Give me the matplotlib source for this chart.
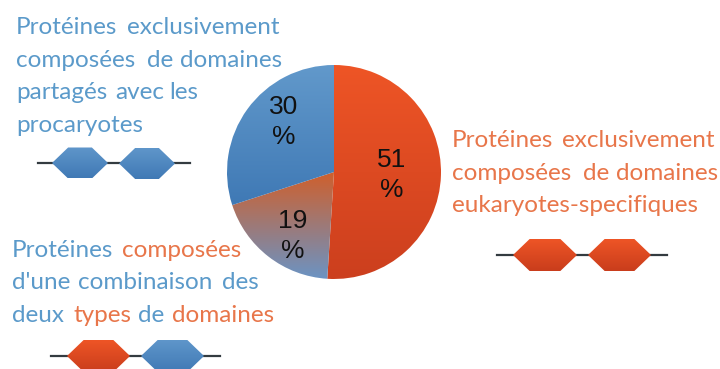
import numpy as np
import matplotlib
matplotlib.use("Agg")
import matplotlib.pyplot as plt
from matplotlib.colors import LinearSegmentedColormap
from matplotlib.patches import Polygon

categories = ["eukaryotes", "combinaison", "procaryotes"]
values = [51, 19, 30]
label_pos = [(392, 175), (293, 236), (284, 122)]

BLUE = "#5b9aca"
ORANGE = "#e8764a"

# baseline y, then (word, x) or (word, x, colour)
left_top = [
    (34, [("Protéines", 16), ("exclusivement", 127)]),
    (67, [("composées", 16), ("de", 147), ("domaines", 180)]),
    (99, [("partagés", 16), ("avec", 115), ("les", 169)]),
    (132, [("procaryotes", 16)]),
]
right_text = [
    (147, [("Protéines", 452), ("exclusivement", 562)]),
    (180, [("composées", 452), ("de", 583), ("domaines", 616)]),
    (212, [("eukaryotes-specifiques", 452)]),
]
bottom_text = [
    (257, [("Protéines", 12, BLUE), ("composées", 122, ORANGE)]),
    (289, [("d'une", 12, BLUE), ("combinaison", 78, BLUE), ("des", 222, BLUE)]),
    (322, [("deux", 12, BLUE), ("types", 73, ORANGE), ("de", 138, BLUE), ("domaines", 172, ORANGE)]),
]

fig = plt.figure(figsize=(7.2, 3.69), dpi=100)
W, H = 720, 369

# pie
cx, cy, r = 334, 172, 107
pie_ax = fig.add_axes([(cx - r) / W, 1 - (cy + r) / H, 2 * r / W, 2 * r / H])
wedges, _ = pie_ax.pie(values, startangle=90, counterclock=False, radius=1)
pie_ax.set_aspect("auto")

pie_cmaps = [
    ["#ee5526", "#cc3f1e"],
    ["#cf5f2c", "#6b94c4"],
    ["#6299cb", "#3f79b5"],
]
grad = np.linspace(0, 1, 256).reshape(-1, 1)
for w, colors in zip(wedges, pie_cmaps):
    cmap = LinearSegmentedColormap.from_list("g", colors)
    y0, y1 = w.get_path().transformed(w.get_transform() - pie_ax.transData).get_extents().intervaly
    im = pie_ax.imshow(grad, cmap=cmap, extent=[-1, 1, y0, y1], origin="upper", aspect="auto", zorder=2)
    im.set_clip_path(w)
    w.set_visible(False)
pie_ax.set_xlim(-1, 1)
pie_ax.set_ylim(-1, 1)
pie_ax.axis("off")

top = fig.add_axes([0, 0, 1, 1], facecolor="none")
top.set_xlim(0, W)
top.set_ylim(H, 0)
top.axis("off")

for v, (x, y) in zip(values, label_pos):
    top.text(x, y, f"{v}\n%", ha="center", va="center", color="#111111",
             family="Liberation Sans", fontsize=19, linespacing=1.32)


def write(lines, default=None):
    for y, words in lines:
        for item in words:
            color = item[2] if len(item) > 2 else default
            top.text(item[1], y, item[0], color=color,
                     family="Lato", fontsize=17.5, va="baseline", ha="left")


write(left_top, BLUE)
write(right_text, ORANGE)
write(bottom_text)


def hexagon(x0, x1, yc, h, colors):
    dx = h * 0.52
    pts = [(x0, yc), (x0 + dx, yc - h / 2), (x1 - dx, yc - h / 2),
           (x1, yc), (x1 - dx, yc + h / 2), (x0 + dx, yc + h / 2)]
    poly = Polygon(pts, closed=True, facecolor="none", edgecolor="none", zorder=3)
    top.add_patch(poly)
    cmap = LinearSegmentedColormap.from_list("h", colors)
    im = top.imshow(grad, cmap=cmap, extent=[x0, x1, yc + h / 2, yc - h / 2],
                    aspect="auto", zorder=3)
    im.set_clip_path(poly)


H_BLUE = ["#5f96ca", "#4079b5"]
H_ORANGE = ["#ee5526", "#c93d1c"]

top.plot([38, 190], [163, 163], color="#333b40", lw=1.6, zorder=2)
hexagon(52, 108, 163, 31, H_BLUE)
hexagon(119, 175, 163.5, 31, H_BLUE)

top.plot([497, 667], [255, 255], color="#333b40", lw=1.6, zorder=2)
hexagon(513, 577, 255, 32, H_ORANGE)
hexagon(588, 651, 255, 32, H_ORANGE)

top.plot([51, 220], [356, 356], color="#333b40", lw=1.6, zorder=2)
hexagon(67, 130, 356, 32, H_ORANGE)
hexagon(141, 204, 356, 32, H_BLUE)

top.set_xlim(0, W)
top.set_ylim(H, 0)

fig.savefig("out.png", dpi=100)
